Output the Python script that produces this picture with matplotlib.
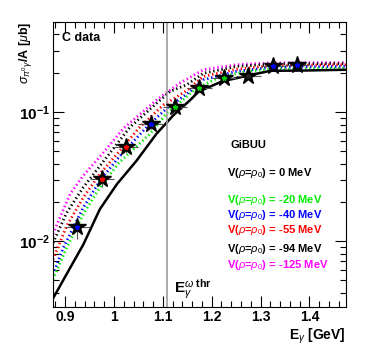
import numpy as np
import matplotlib
matplotlib.use("Agg")
import matplotlib.pyplot as plt
from matplotlib.ticker import MultipleLocator, LogLocator, NullFormatter, FixedLocator

plt.rcParams['font.family'] = ['Liberation Sans', 'DejaVu Sans']
plt.rcParams['mathtext.fontset'] = 'custom'
plt.rcParams['mathtext.rm'] = 'Liberation Sans'
plt.rcParams['mathtext.it'] = 'Liberation Sans:italic'
plt.rcParams['mathtext.bf'] = 'Liberation Sans:bold'

# C data (stars)
e_data   = [0.925, 0.975, 1.025, 1.075, 1.125, 1.175, 1.225, 1.275, 1.325, 1.375]
xs_data  = [0.0129, 0.0305, 0.0533, 0.0805, 0.109, 0.154, 0.185, 0.191, 0.227, 0.233]
xs_err   = [0.0025, 0.004, 0.005, 0.006, 0.007, 0.008, 0.008, 0.008, 0.009, 0.010]
e_err    = [0.025] * 10

# GiBUU curves, V(rho=rho0)
e_0   = [0.875, 0.910, 0.937, 0.971, 1.006, 1.046, 1.087, 1.122, 1.156, 1.173, 1.221, 1.272, 1.320, 1.387, 1.475]
xs_0  = [0.0036, 0.0062, 0.0094, 0.0177, 0.0277, 0.042, 0.068, 0.095, 0.124, 0.144, 0.173, 0.191, 0.209, 0.210, 0.213]

e_20  = [0.875, 0.903, 0.937, 0.971, 1.010, 1.074, 1.108, 1.149, 1.169, 1.217, 1.272, 1.320, 1.475]
xs_20 = [0.00505, 0.00887, 0.0162, 0.0261, 0.0405, 0.068, 0.098, 0.132, 0.153, 0.187, 0.207, 0.215, 0.219]

e_40  = [0.875, 0.896, 0.937, 0.971, 1.010, 1.067, 1.108, 1.149, 1.183, 1.251, 1.320, 1.475]
xs_40 = [0.00552, 0.00887, 0.0182, 0.0294, 0.0448, 0.0767, 0.107, 0.138, 0.178, 0.207, 0.222, 0.226]

e_55  = [0.875, 0.903, 0.937, 0.971, 1.000, 1.053, 1.101, 1.149, 1.183, 1.251, 1.320, 1.475]
xs_55 = [0.00723, 0.0131, 0.0218, 0.0332, 0.0445, 0.0767, 0.1135, 0.147, 0.189, 0.215, 0.229, 0.233]

e_94  = [0.875, 0.903, 0.937, 0.975, 1.033, 1.087, 1.115, 1.149, 1.183, 1.251, 1.320, 1.475]
xs_94 = [0.0097, 0.0166, 0.0261, 0.040, 0.0767, 0.117, 0.145, 0.163, 0.200, 0.226, 0.236, 0.238]

e_125  = [0.875, 0.910, 0.937, 0.975, 1.019, 1.087, 1.135, 1.183, 1.251, 1.320, 1.475]
xs_125 = [0.0114, 0.0232, 0.0322, 0.047, 0.0746, 0.124, 0.168, 0.213, 0.233, 0.241, 0.242]

e_thr = 1.109

labels = ["V($\\rho$=$\\rho_0$) = 0 MeV", "V($\\rho$=$\\rho_0$) = -20 MeV", "V($\\rho$=$\\rho_0$) = -40 MeV",
          "V($\\rho$=$\\rho_0$) = -55 MeV", "V($\\rho$=$\\rho_0$) = -94 MeV", "V($\\rho$=$\\rho_0$) = -125 MeV"]

fig = plt.figure(figsize=(3.65, 3.59), dpi=100)
ax = fig.add_axes([0.145, 0.145, 0.803, 0.794])

dot = (0, (0.5, 1.0))
ax.plot(e_125, xs_125, color="#ff00ff", lw=2.0, ls=dot)
ax.plot(e_94, xs_94, color="black", lw=2.0, ls=dot)
ax.plot(e_55, xs_55, color="#ff0000", lw=2.0, ls=dot)
ax.plot(e_40, xs_40, color="#0000ff", lw=2.0, ls=dot)
ax.plot(e_20, xs_20, color="#00ee00", lw=2.0, ls=dot)
ax.plot(e_0, xs_0, color="black", lw=1.8)

ax.axvline(e_thr, color="#999999", lw=1.2)

ax.errorbar(e_data, xs_data, xerr=e_err, yerr=xs_err, fmt="none", ecolor="#555555", elinewidth=0.8, capsize=0)
ax.plot(e_data, xs_data, ls="none", marker="*", ms=13, color="black")
inner = ["#0000ff", "#ff0000", "#ff0000", "#0000ff", "#00cc00", "#00cc00", "#00cc00", "#222222", "#0000ff", "#0000ff"]
for x, y, c in zip(e_data, xs_data, inner):
    ax.plot(x, y, ls="none", marker="*", ms=3.5, color=c)

ax.set_yscale("log")
ax.set_xlim(0.875, 1.475)
ax.set_ylim(0.0031, 0.5)

ax.xaxis.set_major_locator(FixedLocator([0.9, 1.0, 1.1, 1.2, 1.3, 1.4]))
ax.xaxis.set_minor_locator(MultipleLocator(0.02))
ax.set_xticklabels(["0.9", "1", "1.1", "1.2", "1.3", "1.4"])
ax.yaxis.set_major_locator(FixedLocator([0.01, 0.1]))
ax.set_yticklabels(["$\\mathbf{10^{-2}}$", "$\\mathbf{10^{-1}}$"])
ax.yaxis.set_minor_locator(LogLocator(base=10, subs=np.arange(2, 10)))
ax.yaxis.set_minor_formatter(NullFormatter())

ax.tick_params(which="both", direction="in", top=True, right=True)
ax.tick_params(which="major", length=8, width=0.8)
ax.tick_params(which="minor", length=4, width=0.8)
ax.tick_params(axis="x", which="major", labelsize=10, pad=2)
ax.tick_params(axis="y", which="major", labelsize=11, pad=2)
for lab in ax.get_xticklabels() + ax.get_yticklabels():
    lab.set_fontweight("bold")

ax.set_xlabel("E$_\\gamma$ [GeV]", fontsize=10, fontweight="bold", loc="right")
ax.xaxis.set_label_coords(1.0, -0.068)
ax.set_ylabel("$\\sigma_{\\pi^0\\gamma}$/A [$\\mu$b]", fontsize=9, fontweight="bold", loc="top")
ax.yaxis.set_label_coords(-0.065, 1.0)

ax.text(0.03, 0.965, "C data", transform=ax.transAxes, fontsize=9, fontweight="bold", va="top")
ax.text(1.122, 0.0040, "E$_\\gamma^{\\omega\\ \\mathbf{thr}}$", fontsize=11, fontweight="bold")

ax.text(1.238, 0.0552, "GiBUU", fontsize=8, fontweight="bold", va="center")
label_y = [0.034, 0.0209, 0.01596, 0.0122, 0.00866, 0.0065]
label_c = ["black", "#00ee00", "#0000ff", "#ff0000", "black", "#ff00ff"]
for lab, yy, c in zip(labels, label_y, label_c):
    ax.text(1.232, yy, lab, color=c, fontsize=8, fontweight="bold", va="center")

fig.savefig("out.png", dpi=100)
